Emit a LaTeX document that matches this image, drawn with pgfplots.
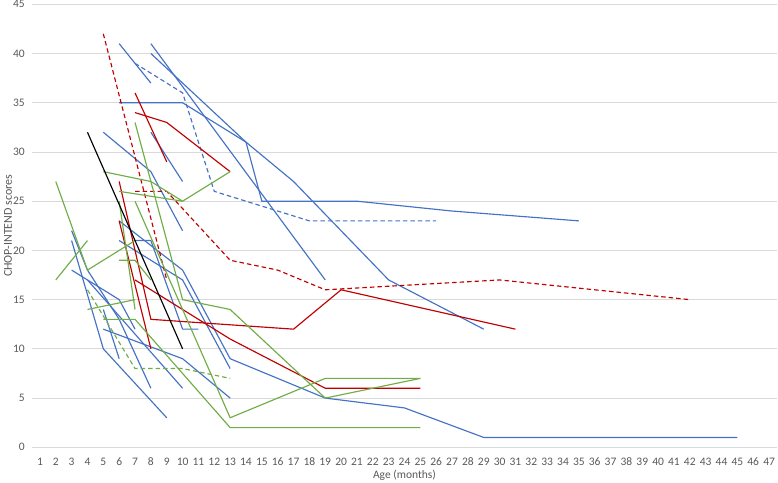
\documentclass[border=0pt]{standalone}
\usepackage{fontspec}
\setmainfont{Carlito}
\usepackage{pgfplots}
\pgfplotsset{compat=1.18}
\definecolor{cblue}{HTML}{4472C4}
\definecolor{cred}{HTML}{C00000}
\definecolor{cgreen}{HTML}{70AD47}
\definecolor{cgrid}{HTML}{D9D9D9}
\definecolor{ctext}{HTML}{595959}
\begin{document}
\begin{tikzpicture}
\begin{axis}[
  at={(0,0)}, anchor=south west,
  scale only axis, width=745pt, height=443pt,
  xmin=0.5, xmax=47.5, ymin=0, ymax=45,
  xtick={1,...,47}, ytick={0,5,...,45},
  ymajorgrids, major grid style={draw=cgrid, line width=0.75pt},
  axis line style={draw=none}, tick style={draw=none},
  /pgf/number format/assume math mode=true,
  font=\fontsize{11.5}{13}\selectfont,
  ticklabel style={font=\fontsize{11.5}{13}\selectfont, text=ctext},
  xticklabel style={anchor=base, yshift=-18.5pt},
  yticklabel style={anchor=east, inner sep=0pt, xshift=-7pt},
  xlabel={Age (months)}, ylabel={CHOP-INTEND scores},
  every axis x label/.style={at={(axis description cs:0.5,-0.0641)}, anchor=center, font=\fontsize{11.5}{13}\selectfont, text=ctext},
  every axis y label/.style={at={(axis description cs:-0.0322,0.5)}, rotate=90, anchor=center, font=\fontsize{12}{14}\selectfont, text=ctext},
  every axis plot/.append style={line width=1.15pt, no markers},
  bl/.style={draw=cblue}, rd/.style={draw=cred}, gr/.style={draw=cgreen},
  dsh/.style={dash pattern=on 4.5pt off 3pt},
]
% blue
\addplot[bl] coordinates {(6,41)(8,37)};
\addplot[bl] coordinates {(8,41)(19,17)};
\addplot[bl] coordinates {(8,40)(14,31)(15,25)(21,25)(27,24)(35,23)};
\addplot[bl] coordinates {(6,35)(10,35)(14,31)(17,27)(23,17)(29,12)};
\addplot[bl] coordinates {(8,32)(10,27)};
\addplot[bl] coordinates {(5,32)(8,28)(10,22)};
\addplot[bl] coordinates {(6,23)(10,18)(13,9)(19,5)(24,4)(29,1)(45,1)};
\addplot[bl] coordinates {(6,21)(10,17)(13,8)};
\addplot[bl] coordinates {(7,21)(8,21)(10,12)(11,12)};
\addplot[bl] coordinates {(5,12)(10,9)(13,5)};
\addplot[bl] coordinates {(3,22)(4,18)(6,13)(8,6)};
\addplot[bl] coordinates {(3,21)(5,10)(9,3)};
\addplot[bl] coordinates {(3,18)(4,17)(6,15)(7,12)};
\addplot[bl] coordinates {(4,17)(10,6)};
\addplot[bl] coordinates {(5,14)(6,9)};
\addplot[bl,dsh] coordinates {(7,39)(10,36)(12,26)(18,23)(26,23)};
% red
\addplot[rd,dsh] coordinates {(5,42)(9,17)};
\addplot[rd,dsh] coordinates {(7,26)(9,26)(13,19)(16,18)(19,16)(30,17)(42,15)};
\addplot[rd] coordinates {(7,36)(9,29)};
\addplot[rd] coordinates {(7,34)(9,33)(13,28)};
\addplot[rd] coordinates {(6,27)(8,13)(17,12)(20,16)(31,12)};
\addplot[rd] coordinates {(6,23)(8,10)};
\addplot[rd] coordinates {(7,17)(13,11)(19,6)(25,6)};
% green
\addplot[gr] coordinates {(2,27)(4,18)(7,21)};
\addplot[gr] coordinates {(2,17)(4,21)};
\addplot[gr] coordinates {(4,14)(7,15)};
\addplot[gr] coordinates {(5,13)(7,13)(13,2)(25,2)};
\addplot[gr] coordinates {(6,19)(7,19)(8,17)};
\addplot[gr] coordinates {(7,33)(10,15)(13,14)(19,5)(25,7)};
\addplot[gr] coordinates {(7,25)(13,3)(19,7)(25,7)};
\addplot[gr] coordinates {(6,26)(10,25)};
\addplot[gr] coordinates {(5,28)(8,27)(10,25)(13,28)};
\addplot[gr] coordinates {(6,25)(7,14)};
\addplot[gr,dsh] coordinates {(4,16)(7,8)(10,8)(13,7)};
% black
\addplot[draw=black] coordinates {(4,32)(10,10)};
\end{axis}
\pgfresetboundingbox
\path[use as bounding box] (-32pt,-35.4pt) rectangle (746pt,447.3pt);
\end{tikzpicture}
\end{document}
